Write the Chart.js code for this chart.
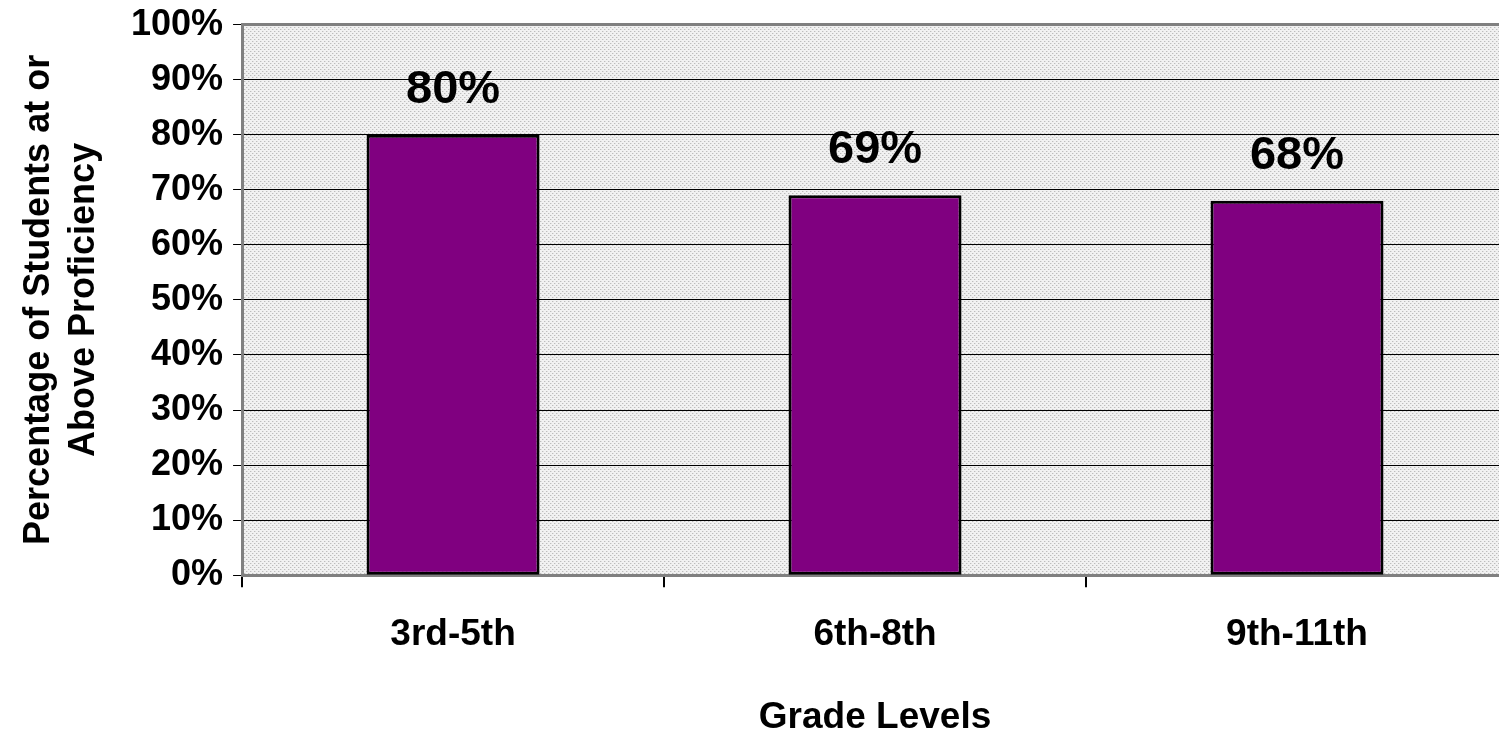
<!DOCTYPE html>
<html>
<head>
<meta charset="utf-8">
<script src="https://cdn.jsdelivr.net/npm/chart.js@4.4.1/dist/chart.umd.min.js"></script>
<style>
html,body{margin:0;padding:0;background:#fff;overflow:hidden;}
#wrap{width:1508px;height:747px;margin-top:-7px;}
</style>
</head>
<body>
<div id="wrap"><canvas id="c" width="1508" height="747"></canvas></div>
<script>
const categories = ["3rd-5th", "6th-8th", "9th-11th"];
const proficiency = [80, 69, 68];
const dataLabels = ["80%", "69%", "68%"];
const yTitle = ["Percentage of Students at or", "Above Proficiency"];
const xTitle = "Grade Levels";

const FONT = "'Liberation Sans', Arial, sans-serif";

function makePattern(ctx) {
  const p = document.createElement('canvas');
  p.width = 4; p.height = 4;
  const pc = p.getContext('2d');
  pc.fillStyle = '#f1f1f1';
  pc.fillRect(0, 0, 4, 4);
  pc.fillStyle = '#bcbcbc';
  pc.fillRect(0, 0, 1, 1);
  pc.fillRect(2, 2, 1, 1);
  pc.fillStyle = '#dedede';
  pc.fillRect(1, 0, 1, 1);
  pc.fillRect(3, 2, 1, 1);
  return ctx.createPattern(p, 'repeat');
}

const bgPlugin = {
  id: 'bg',
  beforeDraw(chart) {
    const {ctx, chartArea: a} = chart;
    ctx.save();
    ctx.fillStyle = makePattern(ctx);
    ctx.fillRect(a.left, a.top, a.right - a.left, a.bottom - a.top);
    ctx.restore();
  },
  afterDraw(chart) {
    const {ctx, chartArea: a} = chart;
    ctx.save();
    ctx.strokeStyle = '#808080';
    ctx.lineWidth = 3;
    ctx.beginPath();
    ctx.moveTo(a.left, a.top);
    ctx.lineTo(a.right, a.top);
    ctx.stroke();
    ctx.restore();
  }
};

const labelPlugin = {
  id: 'vals',
  afterDatasetsDraw(chart) {
    const {ctx} = chart;
    const meta = chart.getDatasetMeta(0);
    ctx.save();
    ctx.font = "bold 47px " + FONT;
    ctx.fillStyle = '#000';
    ctx.textAlign = 'center';
    ctx.textBaseline = 'alphabetic';
    meta.data.forEach((bar, i) => {
      ctx.fillText(dataLabels[i], bar.x, bar.y - 32);
    });
    ctx.restore();
  }
};

new Chart(document.getElementById('c'), {
  type: 'bar',
  data: {
    labels: categories,
    datasets: [{
      data: proficiency,
      backgroundColor: '#800080',
      borderColor: '#000000',
      borderWidth: 3,
      borderSkipped: false,
      barPercentage: 0.41,
      categoryPercentage: 1.0
    }]
  },
  options: {
    responsive: false,
    animation: false,
    devicePixelRatio: 1,
    layout: {padding: {top: 0, right: 0, bottom: 0, left: 17}},
    plugins: {legend: {display: false}, tooltip: {enabled: false}},
    scales: {
      x: {
        offset: true,
        grid: {offset: true, drawOnChartArea: false, display: true, tickLength: 12, color: '#000', lineWidth: 2},
        border: {color: '#808080', width: 3},
        ticks: {font: {family: FONT, size: 37, weight: 'bold'}, color: '#000', padding: 25},
        title: {display: true, text: xTitle, font: {family: FONT, size: 37, weight: 'bold'}, color: '#000', padding: {top: 14, bottom: 0}}
      },
      y: {
        min: 0, max: 100,
        ticks: {stepSize: 10, callback: v => v + '%', font: {family: FONT, size: 36, weight: 'bold'}, color: '#000', padding: 10},
        grid: {color: '#000', lineWidth: 1, tickLength: 9, tickColor: '#000'},
        border: {color: '#808080', width: 3},
        title: {display: true, text: yTitle, font: {family: FONT, size: 36, weight: 'bold', lineHeight: 1.25}, color: '#000', padding: {top: 0, bottom: 14}}
      }
    }
  },
  plugins: [bgPlugin, labelPlugin]
});
</script>
</body>
</html>
